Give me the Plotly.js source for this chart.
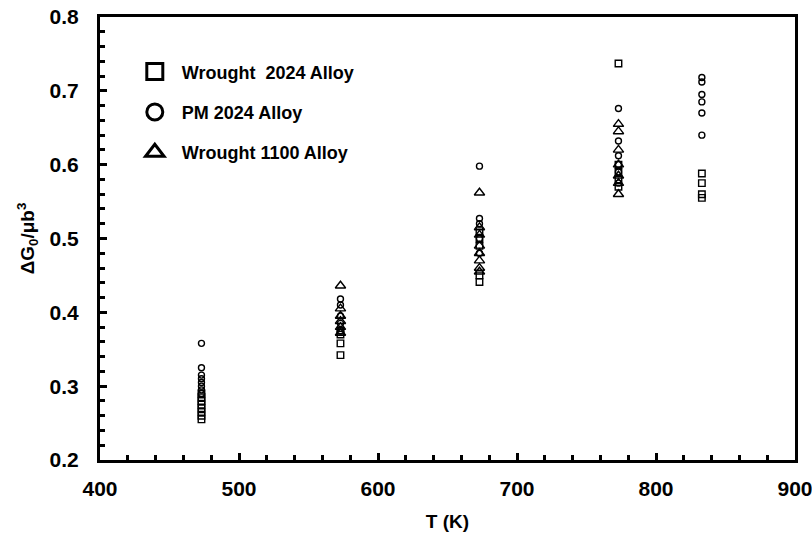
<!DOCTYPE html>
<html>
<head>
<meta charset="utf-8">
<script src="https://cdn.plot.ly/plotly-3.0.1.min.js"></script>
<style>body{margin:0;background:#fff}#chart{width:812px;height:539px}</style>
</head>
<body>
<div id="chart"></div>
<script>
// Wrought 2024 Alloy (squares)
const w2024_T = [473,473,473,473,473,473,473,473, 573,573,573,573, 673,673,673,673,673, 773,773,773,773,773, 833,833,833,833];
const w2024_G = [0.290,0.285,0.280,0.275,0.270,0.265,0.260,0.255, 0.375,0.370,0.358,0.342, 0.510,0.500,0.490,0.450,0.441, 0.737,0.600,0.590,0.580,0.570, 0.588,0.575,0.560,0.555];
// PM 2024 Alloy (circles)
const pm2024_T = [473,473,473,473,473,473,473,473, 573,573,573,573,573, 673,673,673,673,673, 773,773,773,773,773,773, 833,833,833,833,833,833];
const pm2024_G = [0.358,0.325,0.315,0.310,0.305,0.300,0.295,0.290, 0.418,0.410,0.395,0.385,0.375, 0.598,0.527,0.520,0.500,0.480, 0.676,0.632,0.612,0.600,0.590,0.575, 0.718,0.712,0.695,0.685,0.670,0.640];
// Wrought 1100 Alloy (triangles)
const w1100_T = [573,573,573,573,573,573, 673,673,673,673,673,673,673,673, 773,773,773,773,773,773,773];
const w1100_G = [0.436,0.405,0.395,0.388,0.380,0.372, 0.562,0.515,0.505,0.490,0.480,0.470,0.460,0.455, 0.655,0.645,0.620,0.600,0.585,0.575,0.560];

const seriesNames = ['Wrought  2024 Alloy', 'PM 2024 Alloy', 'Wrought 1100 Alloy'];
const symbols = ['square-open', 'circle-open', 'triangle-up-open'];
const sizes = [6.5, 6, 9];
const xs = [w2024_T, pm2024_T, w1100_T];
const ys = [w2024_G, pm2024_G, w1100_G];

const traces = [];
for (let i = 0; i < 3; i++) {
  traces.push({x: xs[i], y: ys[i], type: 'scatter', mode: 'markers', showlegend: false,
    marker: {symbol: symbols[i], size: sizes[i], color: '#000', line: {color: '#000', width: 1.4}}});
}
// legend-only entries with large symbols
for (let i = 0; i < 3; i++) {
  traces.push({x: [null], y: [null], type: 'scatter', mode: 'markers', name: seriesNames[i],
    legendgroup: 'g' + i, showlegend: true,
    marker: {symbol: symbols[i], size: 16, color: '#000', line: {color: '#000', width: 3}}});
}

const fontB = {family: 'Liberation Sans, Arial, sans-serif', size: 21, color: '#000', weight: 'bold'};
const fontT = {family: 'Liberation Sans, Arial, sans-serif', size: 19, color: '#000', weight: 'bold'};

const layout = {
  width: 812, height: 539,
  margin: {l: 100, r: 17, t: 17, b: 79},
  paper_bgcolor: '#fff', plot_bgcolor: '#fff',
  showlegend: true,
  legend: {x: 0.04, y: 0.918, xanchor: 'left', yanchor: 'top', bgcolor: 'rgba(0,0,0,0)',
           font: {family: 'Liberation Sans, Arial, sans-serif', size: 18, color: '#000', weight: 'bold'},
           itemsizing: 'trace', traceorder: 'grouped', tracegroupgap: 14, itemwidth: 44},
  xaxis: {
    range: [400, 900], dtick: 100, tick0: 400,
    showgrid: false, zeroline: false,
    showline: true, linewidth: 3, linecolor: '#000', mirror: true,
    ticks: 'inside', ticklen: 7, tickwidth: 3, tickcolor: '#000',
    minor: {dtick: 20, ticks: 'inside', ticklen: 5, tickwidth: 3, tickcolor: '#000', showgrid: false},
    tickfont: fontB, ticklabelstandoff: 8, ticklabeloverflow: 'allow',
    title: {text: 'T (K)', font: fontT, standoff: 16}
  },
  yaxis: {
    range: [0.2, 0.8], dtick: 0.1, tick0: 0.2, tickformat: '.1f',
    showgrid: false, zeroline: false,
    showline: true, linewidth: 3, linecolor: '#000', mirror: true,
    ticks: 'inside', ticklen: 7, tickwidth: 3, tickcolor: '#000',
    minor: {dtick: 0.02, ticks: 'inside', ticklen: 5, tickwidth: 3, tickcolor: '#000', showgrid: false},
    tickfont: fontB, ticklabelstandoff: 14,
    title: {text: 'ΔG<sub>0</sub>/μb<sup>3</sup>', font: fontT, standoff: 10}
  }
};

Plotly.newPlot('chart', traces, layout, {displayModeBar: false, staticPlot: true});
</script>
</body>
</html>
